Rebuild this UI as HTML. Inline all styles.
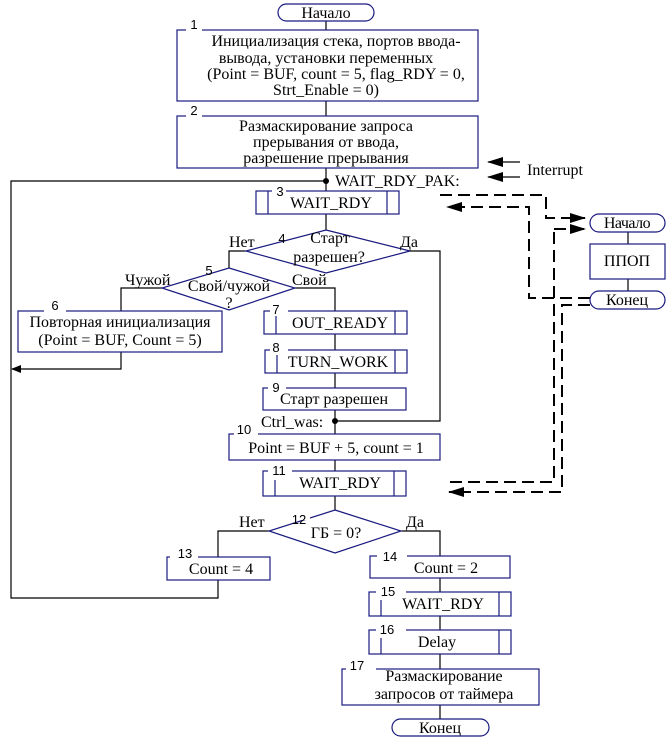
<!DOCTYPE html>
<html><head><meta charset="utf-8"><style>
html,body{margin:0;padding:0;background:#fff}
svg{display:block}
.b{fill:#fff;stroke:#1a1a80;stroke-width:1.2}
.l{fill:none;stroke:#000;stroke-width:1.2}
.d{fill:none;stroke:#000;stroke-width:2;stroke-dasharray:12,6}
text{font-family:"Liberation Serif","DejaVu Serif",serif;font-size:16px;fill:#000}
.n{font-family:"Liberation Sans","DejaVu Sans",sans-serif;font-size:13px}
.c{text-anchor:middle}
</style></head><body>
<svg width="669" height="739" viewBox="0 0 669 739" xmlns="http://www.w3.org/2000/svg">
<defs><marker id="a" markerWidth="10" markerHeight="8" refX="9" refY="4" orient="auto" markerUnits="userSpaceOnUse"><path d="M0,0 L10,4 L0,8z" fill="#000"/></marker>
<marker id="A" markerWidth="16" markerHeight="10" refX="15" refY="5" orient="auto" markerUnits="userSpaceOnUse"><path d="M0,0 L16,5 L0,10z" fill="#000"/></marker></defs>

<path class="l" d="M326,21V30 M326,101V116 M326,168V191 M326,214V230"/>
<path class="l" d="M326,181H11V598H218V580"/>
<circle cx="326" cy="181" r="3"/>
<path class="l" d="M246,251H229V268 M410,251H440V421H335"/>
<circle cx="335" cy="421" r="3"/>
<path class="l" d="M162,288H121V311 M295,288H335V311 M335,334V350 M335,373V388 M335,410V434 M335,460V471 M335,496V510"/>
<path class="l" d="M121,352V369H12" marker-end="url(#a)"/>
<path class="l" d="M269,531H218V557 M401,531H440V556 M440,578V592 M440,616V630 M440,654V669 M440,705V719"/>
<path class="l" d="M628,232V244 M628,279V291"/>
<path class="l" d="M520,162H488" marker-end="url(#A)"/>
<path class="l" d="M520,177H488" marker-end="url(#A)"/>
<text x="527" y="175">Interrupt</text>

<path class="d" d="M440,195H546V218H585" marker-end="url(#A)"/>
<path class="d" d="M590,298H529V207H447" marker-end="url(#A)"/>
<path class="d" d="M554,229H585" marker-end="url(#A)"/>
<path class="d" d="M554,232V482H448"/>
<path class="d" d="M590,305H562V492H449" marker-end="url(#A)"/>

<rect class="b" x="278" y="4" width="96" height="17" rx="8.5"/><text class="c" x="326" y="18">Начало</text>
<rect class="b" x="392" y="719" width="97" height="17" rx="8.5"/><text class="c" x="440" y="733">Конец</text>
<rect class="b" x="590" y="214" width="75" height="18" rx="9"/><text class="c" x="627" y="228" style="letter-spacing:-0.5px">Начало</text>
<rect class="b" x="590" y="244" width="75" height="35"/><text class="c" x="627" y="266">ППОП</text>
<rect class="b" x="590" y="291" width="75" height="18" rx="9"/><text class="c" x="627" y="305">Конец</text>

<rect class="b" x="177" y="30" width="301" height="71"/>
<rect x="186" y="24" width="16" height="8" fill="#fff"/><text class="n c" x="194" y="29">1</text>
<text class="c" x="336" y="46">Инициализация стека, портов ввода-</text>
<text class="c" x="326" y="63">вывода,  установки переменных</text>
<text class="c" x="336" y="79">(Point = BUF, count = 5, flag_RDY = 0,</text>
<text class="c" x="326" y="95">Strt_Enable = 0)</text>
<rect class="b" x="177" y="116" width="301" height="52"/>
<rect x="186" y="110" width="16" height="8" fill="#fff"/><text class="n c" x="194" y="115">2</text>
<text class="c" x="326" y="131">Размаскирование запроса</text>
<text class="c" x="326" y="147">прерывания от ввода,</text>
<text class="c" x="326" y="163">разрешение прерывания</text>
<text x="335" y="186">WAIT_RDY_PAK:</text>

<rect class="b" x="256" y="191" width="143" height="23"/>
<path class="b" d="M268,191V214 M387,191V214"/>
<rect x="272" y="185" width="14" height="8" fill="#fff"/><text class="n c" x="280" y="196">3</text>
<text class="c" x="331" y="208">WAIT_RDY</text>

<polygon class="b" points="326,230 410,251 326,273 246,251"/>
<rect x="275" y="227" width="14" height="10" fill="#fff"/><text class="n c" x="282" y="243">4</text>
<text class="c" x="330" y="243">Старт</text>
<text class="c" x="329" y="262">разрешен?</text>
<text x="229" y="247">Нет</text><text x="400" y="247">Да</text>

<polygon class="b" points="229,268 295,288 229,310 162,288"/>
<text class="n c" x="209" y="275">5</text>
<text class="c" x="229" y="291">Свой/чужой</text>
<text class="c" x="229" y="308">?</text>
<text x="125" y="285">Чужой</text><text x="292" y="285">Свой</text>

<rect class="b" x="18" y="311" width="204" height="41"/>
<rect x="44" y="305" width="22" height="8" fill="#fff"/><text class="n c" x="55" y="310">6</text>
<text class="c" x="120" y="327">Повторная инициализация</text>
<text class="c" x="120" y="345">(Point = BUF, Count = 5)</text>

<rect class="b" x="264" y="311" width="143" height="23"/>
<path class="b" d="M276,316V334 M395,311V334"/>
<rect x="270" y="305" width="18" height="8" fill="#fff"/><text class="n c" x="276" y="314">7</text>
<text class="c" x="340" y="328">OUT_READY</text>
<rect class="b" x="265" y="350" width="142" height="23"/>
<path class="b" d="M277,355V373 M395,350V373"/>
<rect x="270" y="344" width="18" height="8" fill="#fff"/><text class="n c" x="276" y="352">8</text>
<text class="c" x="338" y="367">TURN_WORK</text>
<rect class="b" x="263" y="388" width="143" height="22"/>
<rect x="268" y="382" width="18" height="8" fill="#fff"/><text class="n c" x="276" y="392">9</text>
<text class="c" x="334" y="404">Старт разрешен</text>
<text x="261" y="427">Ctrl_was:</text>

<rect class="b" x="229" y="434" width="211" height="26"/>
<rect x="234" y="428" width="24" height="8" fill="#fff"/><text class="n c" x="244" y="434">10</text>
<text class="c" x="336" y="453">Point = BUF + 5, count = 1</text>
<rect class="b" x="263" y="471" width="143" height="25"/>
<path class="b" d="M275,480V496 M394,471V496"/>
<rect x="268" y="465" width="24" height="8" fill="#fff"/><text class="n c" x="279" y="475">11</text>
<text class="c" x="340" y="488">WAIT_RDY</text>

<polygon class="b" points="335,510 401,531 335,553 269,531"/>
<rect x="288" y="508" width="22" height="12" fill="#fff"/><text class="n c" x="299" y="524">12</text>
<text class="c" x="336" y="538">ГБ = 0?</text>
<text x="239" y="527">Нет</text><text x="406" y="527">Да</text>

<rect class="b" x="167" y="557" width="103" height="23"/>
<rect x="170" y="551" width="28" height="8" fill="#fff"/><text class="n c" x="185" y="558">13</text>
<text class="c" x="221" y="574">Count = 4</text>
<rect class="b" x="370" y="556" width="140" height="22"/>
<rect x="377" y="550" width="30" height="8" fill="#fff"/><text class="n c" x="390" y="561">14</text>
<text class="c" x="446" y="573">Count = 2</text>
<rect class="b" x="369" y="592" width="142" height="24"/>
<path class="b" d="M381,600V616 M499,592V616"/>
<rect x="376" y="586" width="30" height="8" fill="#fff"/><text class="n c" x="388" y="596">15</text>
<text class="c" x="443" y="609">WAIT_RDY</text>
<rect class="b" x="369" y="630" width="142" height="24"/>
<path class="b" d="M381,638V654 M499,630V654"/>
<rect x="376" y="624" width="30" height="8" fill="#fff"/><text class="n c" x="387" y="634">16</text>
<text class="c" x="437" y="647">Delay</text>
<rect class="b" x="342" y="669" width="197" height="36"/>
<rect x="346" y="663" width="30" height="8" fill="#fff"/><text class="n c" x="357" y="670">17</text>
<text class="c" x="444" y="681">Размаскирование</text>
<text class="c" x="444" y="699">запросов от таймера</text>
</svg>
</body></html>
